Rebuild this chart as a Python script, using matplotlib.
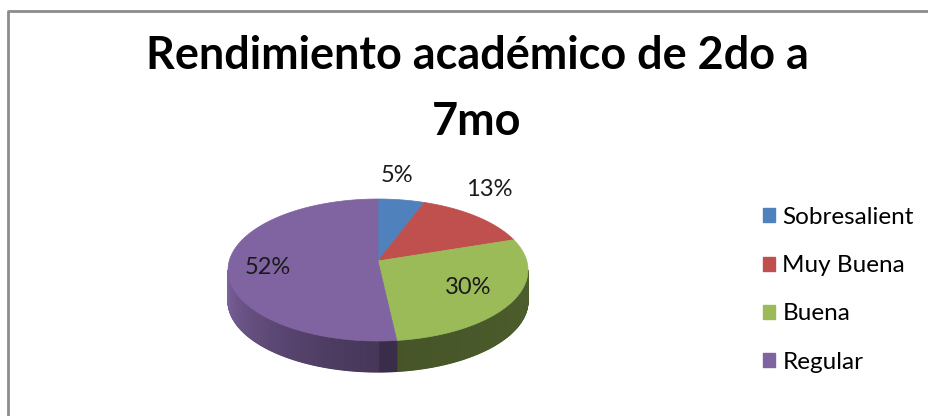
import numpy as np
import matplotlib.pyplot as plt
from matplotlib.patches import Polygon, Patch
from matplotlib.colors import to_rgb

plt.rcParams['font.family'] = ['Lato', 'DejaVu Sans']

title = 'Rendimiento académico de 2do a\n7mo'
categories = ['Sobresalient', 'Muy Buena', 'Buena', 'Regular']
values = [5, 13, 30, 52]
colors = ['#4F81BD', '#C0504D', '#9BBB59', '#8064A2']

# pie geometry in pixel units (y grows downward)
cx, cy = 378, 270
rx, ry = 150, 71
depth = 31
apex = (378, 261)

fig = plt.figure(figsize=(9.29, 4.16), dpi=100)
ax = fig.add_axes([0, 0, 1, 1])
ax.set_xlim(0, 929)
ax.set_ylim(416, 0)
ax.axis('off')

# chart frame: only left and top edges show
ax.plot([8, 8, 929], [416, 10.5, 10.5], color='#8c8c8c', lw=2, solid_capstyle='butt')


def rim(theta):
    t = np.radians(theta)
    return cx + rx * np.sin(t), cy - ry * np.cos(t)


def shade(theta):
    # darker toward the front, lighter toward the left rim
    if theta <= 180:
        return 0.45 + 0.05 * (180 - theta) / 90
    return 0.55 + 0.42 * ((theta - 180) / 90) ** 1.3


total = sum(values)
bounds = np.concatenate([[0], np.cumsum(values) / total * 360])

# side walls (front half only)
for i, col in enumerate(colors):
    a0, a1 = max(bounds[i], 90), min(bounds[i + 1], 270)
    if a1 <= a0:
        continue
    steps = np.linspace(a0, a1, int((a1 - a0) * 2) + 2)
    base = np.array(to_rgb(col))
    for t0, t1 in zip(steps[:-1], steps[1:]):
        x0, y0 = rim(t0)
        x1, y1 = rim(t1)
        c = np.clip(base * shade((t0 + t1) / 2), 0, 1)
        ax.add_patch(Polygon([(x0, y0), (x1, y1), (x1, y1 + depth), (x0, y0 + depth)],
                             closed=True, facecolor=c, edgecolor=c, lw=0.8))

# top faces
for i, col in enumerate(colors):
    th = np.linspace(bounds[i], bounds[i + 1], 120)
    xs, ys = rim(th)
    pts = [apex] + list(zip(xs, ys))
    ax.add_patch(Polygon(pts, closed=True, facecolor=col, edgecolor=col, lw=0.5))

# percentage labels
label_pos = [(397, 176), (489, 190), (468, 288), (268, 267)]
for v, (lx, ly) in zip(values, label_pos):
    ax.text(lx, ly, f'{round(v / total * 100)}%', fontsize=17,
            ha='center', va='center', color='#1a1a1a')

ax.text(477, 89, title, fontsize=32.4, fontweight='bold', ha='center', va='center',
        linespacing=1.7, color='black')

handles = [Patch(facecolor=c, edgecolor=c) for c in colors]
ax.legend(handles, categories, loc='upper left', bbox_to_anchor=(763 / 929, 1 - 207 / 416),
          frameon=False, fontsize=17.5, handlelength=0.5, handleheight=0.5,
          handletextpad=0.3, labelspacing=1.12, borderaxespad=0, borderpad=0)

fig.savefig('out.png', dpi=100)
